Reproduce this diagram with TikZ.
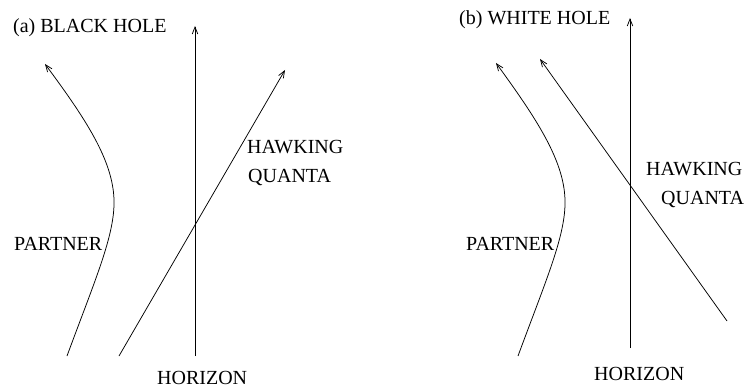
\documentclass[tikz,border=0pt]{standalone}
\usepackage{fontspec}
\setmainfont{Liberation Serif}
\usetikzlibrary{arrows.meta}
\begin{document}
\begin{tikzpicture}[x=1pt,y=-1pt,
  ray/.style={line width=0.75pt,-{Straight Barb[length=7pt,width=5.5pt,line width=0.75pt]}},
  lbl/.style={anchor=base west,inner sep=0pt,font=\fontsize{20}{24}\selectfont}]
\useasboundingbox (0,0) rectangle (746,387);
% ---- panel (a)
\coordinate (aHb) at (195,356);
\coordinate (aHt) at (195,26);
\coordinate (aPb) at (67,356);
\coordinate (aPm) at (114,200);
\coordinate (aPt) at (45,64);
\coordinate (aQb) at (119,356);
\coordinate (aQt) at (285,70);
\draw[ray] (aHb) -- (aHt);
\draw[ray] (aPb) .. controls (95,280) and (115,235) .. (aPm) .. controls (113,160) and (85,118) .. (aPt);
\draw[ray] (aQb) -- (aQt);
\node[lbl] (aT) at (13,32.5) {(a) BLACK HOLE};
\node[lbl] (aHor) at (157,384) {HORIZON};
\node[lbl] (aPar) at (14,251) {PARTNER};
\node[lbl] (aHaw) at (247,154) {HAWKING};
\node[lbl] (aQua) at (248,183) {QUANTA};
% ---- panel (b)
\coordinate (bHb) at (630,348);
\coordinate (bHt) at (630,18);
\coordinate (bPb) at (518,356);
\coordinate (bPm) at (565,200);
\coordinate (bPt) at (496,63);
\coordinate (bQb) at (727,321);
\coordinate (bQt) at (540,59);
\draw[ray] (bHb) -- (bHt);
\draw[ray] (bPb) .. controls (546,280) and (566,235) .. (bPm) .. controls (564,160) and (536,118) .. (bPt);
\draw[ray] (bQb) -- (bQt);
\node[lbl] (bT) at (459,25) {(b) WHITE HOLE};
\node[lbl] (bHor) at (594,380) {HORIZON};
\node[lbl] (bPar) at (466,251) {PARTNER};
\node[lbl] (bHaw) at (646,176) {HAWKING};
\node[lbl] (bQua) at (661,205) {QUANTA};
\end{tikzpicture}
\end{document}
